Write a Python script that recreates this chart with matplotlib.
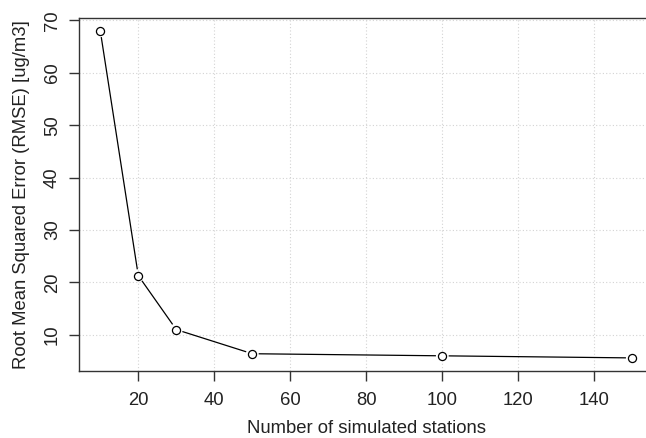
import numpy as np
import matplotlib
matplotlib.use("Agg")
import matplotlib.pyplot as plt

stations = [10, 20, 30, 50, 100, 150]
rmse = [68.0, 21.3, 11.0, 6.4, 6.0, 5.6]
xticks = [20, 40, 60, 80, 100, 120, 140]
yticks = [10, 20, 30, 40, 50, 60, 70]

plt.rcParams["font.family"] = ["Liberation Sans", "DejaVu Sans"]
plt.rcParams["font.size"] = 13.3

fig = plt.figure(figsize=(6.46, 4.38), dpi=100)
ax = fig.add_axes([79 / 646, 67 / 438, 574.6 / 646, 353.3 / 438])

x = np.array(stations, dtype=float)
y = np.array(rmse, dtype=float)

# R-style padding of 4 % on each side
xr = x.max() - x.min()
yr = y.max() - y.min()
ax.set_xlim(x.min() - 0.04 * xr, x.max() + 0.04 * xr)
ax.set_ylim(y.min() - 0.04 * yr, y.max() + 0.04 * yr)

ax.set_xticks(xticks)
ax.set_yticks(yticks)
ax.grid(True, color="#d3d3d3", linestyle=(0, (1, 2)), linewidth=0.8)
ax.set_axisbelow(True)

# line segments with gaps around the points (like type="b")
fig.canvas.draw()
pts = ax.transData.transform(np.column_stack([x, y]))
gap = 7.0
inv = ax.transData.inverted()
for i in range(len(pts) - 1):
    p0, p1 = pts[i], pts[i + 1]
    d = p1 - p0
    L = np.hypot(*d)
    if L <= 2 * gap:
        continue
    u = d / L
    a = inv.transform(p0 + u * gap)
    b = inv.transform(p1 - u * gap)
    ax.plot([a[0], b[0]], [a[1], b[1]], color="black", linewidth=0.9, zorder=3)

ax.scatter(x, y, s=34, facecolors="white", edgecolors="black",
           linewidths=0.9, zorder=4)

for sp in ax.spines.values():
    sp.set_color("#333333")
    sp.set_linewidth(1.0)

ax.tick_params(direction="out", length=7, width=1.0, color="#333333",
               labelcolor="#222222", labelsize=13.3)
ax.tick_params(axis="x", pad=8)
ax.tick_params(axis="y", pad=6)
for lab in ax.get_yticklabels():
    lab.set_rotation(90)
    lab.set_va("center")

ax.set_xlabel("Number of simulated stations", fontsize=13.3, color="#222222",
              labelpad=8)
ax.set_ylabel("Root Mean Squared Error (RMSE) [ug/m3]", fontsize=13.3,
              color="#222222", labelpad=10)

fig.savefig("out.png", dpi=100)
